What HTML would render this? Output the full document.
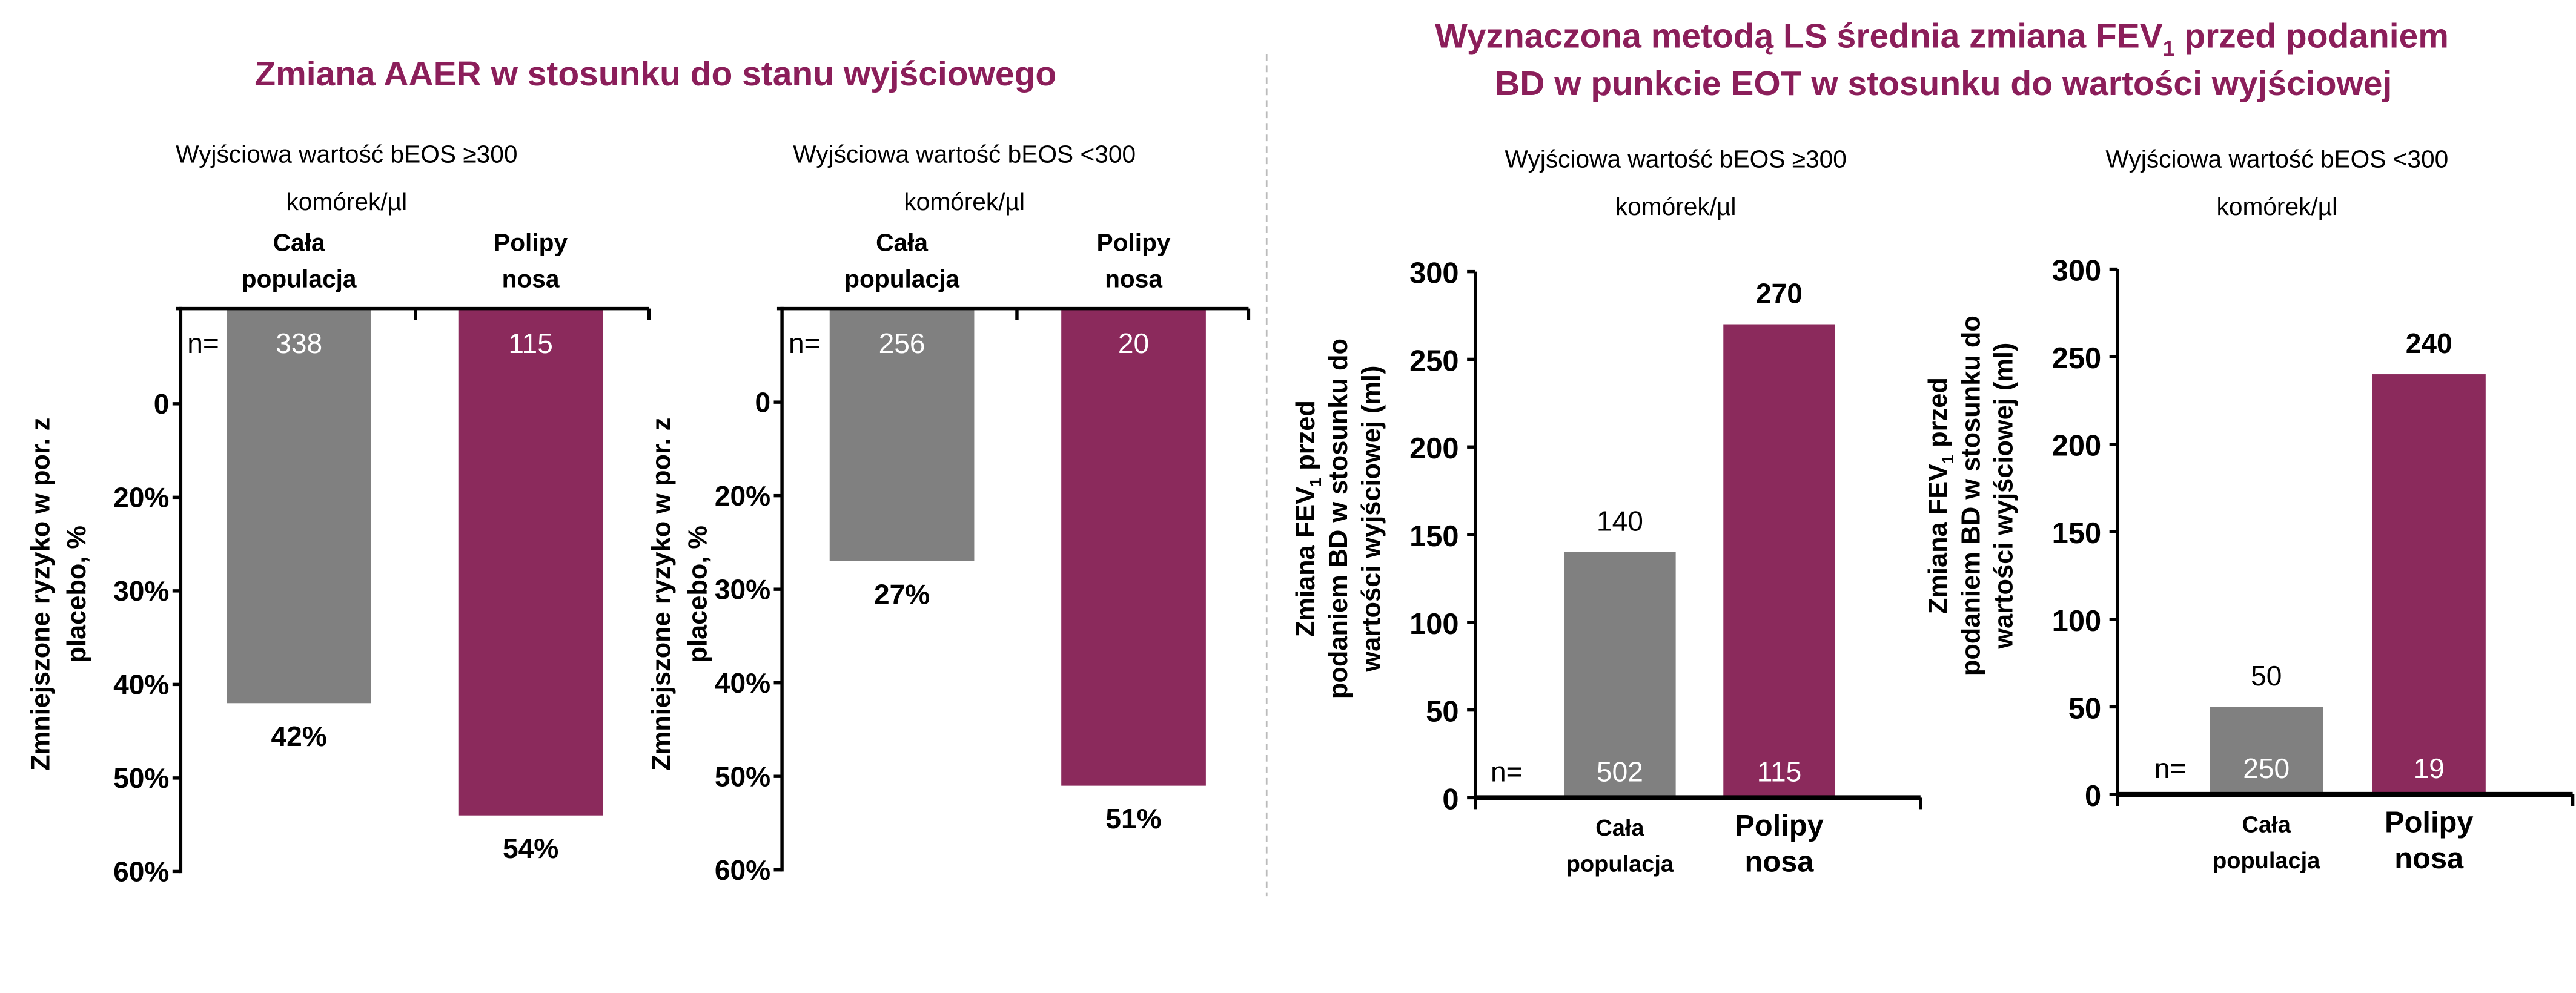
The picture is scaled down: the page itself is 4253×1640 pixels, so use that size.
<!DOCTYPE html>
<html><head><meta charset="utf-8"><title>AAER and FEV1 charts</title>
<style>
html,body{margin:0;padding:0;background:#fff;}
svg{display:block;}
text{font-family:"Liberation Sans Narrow","Liberation Sans",sans-serif;fill:#000;}
.yt{font-family:"Liberation Sans",sans-serif;font-weight:bold;font-size:16px;}
</style></head>
<body>
<svg id="root" width="4253" height="1640" viewBox="0 0 1568 605" preserveAspectRatio="none" xmlns="http://www.w3.org/2000/svg">
<rect width="1568" height="605" fill="#fff"/>
<text x="399" y="52" text-anchor="middle" font-size="21" font-weight="bold" fill="#8b1e5a" style="fill:#8b1e5a">Zmiana AAER w stosunku do stanu wyjściowego</text>
<text x="1182" y="29" text-anchor="middle" font-size="21" font-weight="bold" style="fill:#8b1e5a">Wyznaczona metodą LS średnia zmiana FEV<tspan font-size="13" dy="5">1</tspan><tspan dy="-5"> przed podaniem</tspan></text>
<text x="1183" y="58" text-anchor="middle" font-size="21" font-weight="bold" style="fill:#8b1e5a">BD w punkcie EOT w stosunku do wartości wyjściowej</text>
<line x1="771" y1="33" x2="771" y2="546" stroke="#bbb" stroke-width="1" stroke-dasharray="4,3"/>
<g id="charts"></g>
</svg>
<script>
// ---- data ----
const aaerCategories = ["Cała populacja", "Polipy nosa"];
const aaerHighValues = [42, 54];
const aaerHighN = [338, 115];
const aaerLowValues = [27, 51];
const aaerLowN = [256, 20];
const aaerTickLabels = ["0", "20%", "30%", "40%", "50%", "60%"];
const aaerTickValues = [10, 20, 30, 40, 50, 60];

const fevCategories = ["Cała populacja", "Polipy nosa"];
const fevHighValues = [140, 270];
const fevHighN = [502, 115];
const fevLowValues = [50, 240];
const fevLowN = [250, 19];
const fevTickValues = [0, 50, 100, 150, 200, 250, 300];

const NS = "http://www.w3.org/2000/svg";
const root = document.getElementById("charts");
const COLORS = ["#808080", "#8b2a5c"];
function mk(tag, attrs, parent, txt) {
  const e = document.createElementNS(NS, tag);
  for (const k in attrs) e.setAttribute(k, attrs[k]);
  if (txt !== undefined) e.textContent = txt;
  (parent || root).appendChild(e);
  return e;
}

function aaerChart(o) {
  const g = mk("g", {});
  
  
  const y = v => o.y20 + (v - 20) * 5.7;
  let t = mk("text", {x: o.subX, y: 99, "text-anchor": "middle", "font-size": 15}, g, o.sub1);
  
  
  t = mk("text", {x: o.subX, y: 128, "text-anchor": "middle", "font-size": 15}, g, "komórek/µl");
  
  
  // y axis title
  const yt = mk("text", {class: "yt", transform: `translate(${o.ytX},362) rotate(-90)`, "text-anchor": "middle"}, g);
  
  
  mk("tspan", {x: 0, y: 0}, yt, "Zmniejszone ryzyko w por. z");
  mk("tspan", {x: 0, y: 22}, yt, "placebo, %");
  // bars
  o.values.forEach((v, i) => {
    const bx = o.barX[i];
    const r = mk("rect", {x: bx, y: o.top, width: o.barW, height: y(v) - o.top, fill: COLORS[i]}, g);
    
    
    const cx = bx + o.barW / 2;
    let l = mk("text", {x: cx, y: y(v) + 26, "text-anchor": "middle", "font-size": 17, "font-weight": "bold"}, g, v + "%");
    
    
    l = mk("text", {x: cx, y: o.top + 27, "text-anchor": "middle", "font-size": 17, style: "fill:#fff"}, g, o.n[i]);
    
    
    const parts = aaerCategories[i] === "Cała populacja" ? ["Cała", "populacja"] : ["Polipy", "nosa"];
    l = mk("text", {x: cx, y: 153, "text-anchor": "middle", "font-size": 15, "font-weight": "bold"}, g, parts[0]);
    
    
    mk("text", {x: cx, y: 175, "text-anchor": "middle", "font-size": 15, "font-weight": "bold"}, g, parts[1]);
  });
  let n = mk("text", {x: o.axisX + 4, y: o.top + 27, "font-size": 17}, g, "n=");
  
  
  // axes
  let a = mk("line", {x1: o.axisX, y1: o.top - 1, x2: o.axisX, y2: y(60) + 1, stroke: "#000", "stroke-width": 2}, g);
  
  
  a = mk("line", {x1: o.axisX - 3, y1: o.top, x2: o.axisEnd, y2: o.top, stroke: "#000", "stroke-width": 2}, g);
  
  
  [o.axisMid, o.axisEnd].forEach(x => mk("line", {x1: x, y1: o.top, x2: x, y2: o.top + 7, stroke: "#000", "stroke-width": 2}, g));
  aaerTickValues.forEach((v, i) => {
    mk("line", {x1: o.axisX - 5, y1: y(v), x2: o.axisX, y2: y(v), stroke: "#000", "stroke-width": 2}, g);
    const tl = mk("text", {x: o.axisX - 7, y: y(v) + 6, "text-anchor": "end", "font-size": 17, "font-weight": "bold"}, g, aaerTickLabels[i]);
    
    
  });
}

function fevChart(o) {
  const g = mk("g", {});
  
  
  const y = v => o.y0 - v * (o.y0 - o.y300) / 300;
  let t = mk("text", {x: o.subX, y: 102, "text-anchor": "middle", "font-size": 15}, g, o.sub1);
  
  
  t = mk("text", {x: o.subX, y: 131, "text-anchor": "middle", "font-size": 15}, g, "komórek/µl");
  
  
  const yt = mk("text", {class: "yt", transform: `translate(${o.ytX},${o.ytY}) rotate(-90)`, "text-anchor": "middle"}, g);
  
  
  const t1 = mk("tspan", {x: 0, y: 0}, yt, "Zmiana FEV");
  mk("tspan", {"font-size": 10, dy: 4}, yt, "1");
  mk("tspan", {dy: -4}, yt, " przed");
  mk("tspan", {x: 0, y: 20}, yt, "podaniem BD w stosunku do");
  mk("tspan", {x: 0, y: 40}, yt, "wartości wyjściowej (ml)");
  o.values.forEach((v, i) => {
    const bx = o.barX[i];
    const r = mk("rect", {x: bx, y: y(v), width: o.barW, height: y(0) - y(v), fill: COLORS[i]}, g);
    
    
    const cx = bx + o.barW / 2;
    let l = mk("text", {x: cx, y: y(v) - 13, "text-anchor": "middle", "font-size": 17, "font-weight": i === 1 ? "bold" : "normal"}, g, v);
    
    
    l = mk("text", {x: cx, y: o.y0 - 10, "text-anchor": "middle", "font-size": 17, style: "fill:#fff"}, g, o.n[i]);
    
    
    const parts = fevCategories[i] === "Cała populacja" ? ["Cała", "populacja"] : ["Polipy", "nosa"];
    const fs = i === 0 ? 14 : 18;
    l = mk("text", {x: cx, y: o.y0 + 23, "text-anchor": "middle", "font-size": fs, "font-weight": "bold"}, g, parts[0]);
    
    
    mk("text", {x: cx, y: o.y0 + 45, "text-anchor": "middle", "font-size": fs, "font-weight": "bold"}, g, parts[1]);
  });
  let n = mk("text", {x: o.nX, y: o.y0 - 10, "text-anchor": "middle", "font-size": 17}, g, "n=");
  
  
  let a = mk("line", {x1: o.axisX, y1: y(300), x2: o.axisX, y2: o.y0 + 7, stroke: "#000", "stroke-width": 2}, g);
  
  
  a = mk("line", {x1: o.axisX, y1: o.y0, x2: o.axisEnd, y2: o.y0, stroke: "#000", "stroke-width": 3}, g);
  
  
  mk("line", {x1: o.axisEnd, y1: o.y0, x2: o.axisEnd, y2: o.y0 + 7, stroke: "#000", "stroke-width": 2}, g);
  fevTickValues.forEach(v => {
    mk("line", {x1: o.axisX - 5, y1: y(v), x2: o.axisX, y2: y(v), stroke: "#000", "stroke-width": 2}, g);
    const tl = mk("text", {x: o.axisX - 10, y: y(v) + 7, "text-anchor": "end", "font-size": 18, "font-weight": "bold"}, g, v);
    
    
  });
}

aaerChart({name: "aaer-chart-high-eos", values: aaerHighValues, n: aaerHighN, sub1: "Wyjściowa wartość bEOS ≥300", subX: 211,
  axisX: 110, axisMid: 253, axisEnd: 395, top: 188, y20: 303, barX: [138, 279], barW: 88, ytX: 30});
aaerChart({name: "aaer-chart-low-eos", values: aaerLowValues, n: aaerLowN, sub1: "Wyjściowa wartość bEOS <300", subX: 587,
  axisX: 476, axisMid: 619, axisEnd: 760, top: 188, y20: 302, barX: [505, 646], barW: 88, ytX: 408});
fevChart({name: "fev1-chart-high-eos", values: fevHighValues, n: fevHighN, sub1: "Wyjściowa wartość bEOS ≥300", subX: 1020,
  axisX: 898, axisEnd: 1169, y0: 486, y300: 165.5, barX: [952, 1049], barW: 68, nX: 917, ytX: 800, ytY: 316});
fevChart({name: "fev1-chart-low-eos", values: fevLowValues, n: fevLowN, sub1: "Wyjściowa wartość bEOS <300", subX: 1386,
  axisX: 1289, axisEnd: 1566, y0: 484, y300: 164, barX: [1345, 1444], barW: 69, nX: 1321, ytX: 1185, ytY: 302});
</script>
</body></html>
